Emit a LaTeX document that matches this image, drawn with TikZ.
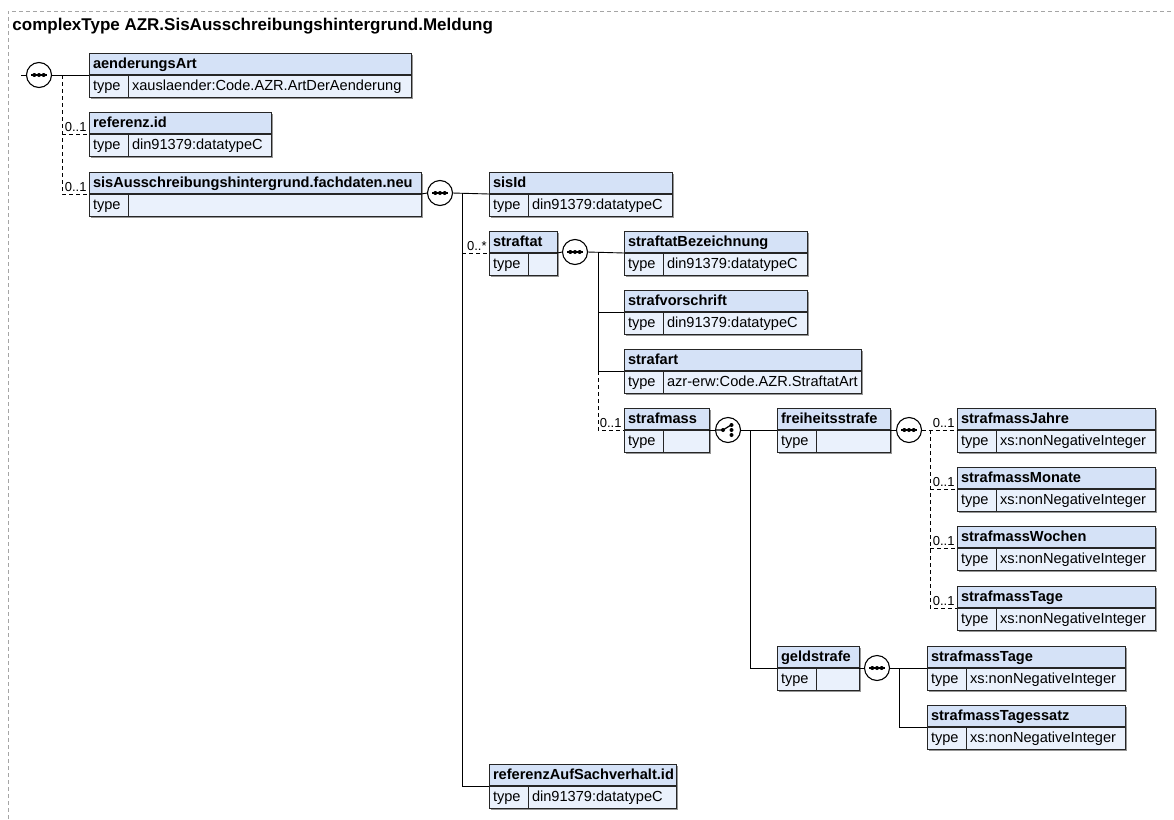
\documentclass[tikz,border=0pt]{standalone}
\usepackage{fontspec}
\setmainfont{Liberation Sans}
\usepackage{tikz}
\usetikzlibrary{shadows}

\definecolor{headblue}{RGB}{213,226,247}
\definecolor{typeblue}{RGB}{234,241,252}
\definecolor{framegray}{RGB}{165,165,165}
\definecolor{shadegray}{RGB}{150,150,150}

\newcommand{\boxfont}{\fontsize{14.6}{17}\selectfont}

\tikzset{
    boxpart/.style={draw=black!85, line width=0.9pt, anchor=north west, minimum height=22pt,
        inner xsep=4pt, inner ysep=0pt, outer sep=0pt, text height=11pt, text depth=3pt,
        general shadow={fill=shadegray, shadow xshift=2pt, shadow yshift=-2pt}},
    headbox/.style={boxpart, fill=headblue, font=\boxfont\bfseries},
    typebox/.style={boxpart, fill=typeblue, font=\boxfont},
    seqnode/.style={circle, draw=black, line width=1.1pt, fill=white, minimum size=25pt,
        inner sep=0pt, outer sep=0pt,
        path picture={
            \draw[black, line width=1.2pt] ([xshift=-8pt]path picture bounding box.center)
                -- ([xshift=8pt]path picture bounding box.center);
            \foreach \dx in {-4.7,0,4.7}
                \fill[black] ([xshift=\dx pt]path picture bounding box.center) circle (2pt);
        }},
    choicenode/.style={circle, draw=black, line width=1.1pt, fill=white, minimum size=25pt,
        inner sep=0pt, outer sep=0pt,
        path picture={
            \draw[black, line width=1.2pt] ([xshift=-13pt]path picture bounding box.center)
                -- ([xshift=-5pt]path picture bounding box.center)
                -- ([xshift=3pt,yshift=5pt]path picture bounding box.center);
            \fill[black] ([xshift=-5pt]path picture bounding box.center) circle (2pt);
            \foreach \dy in {-5,0,5}
                \fill[black] ([xshift=3.5pt,yshift=\dy pt]path picture bounding box.center) circle (2pt);
        }},
    optline/.style={dash pattern=on 4pt off 3pt},
    mult/.style={font=\fontsize{13}{15}\selectfont, inner sep=0pt, anchor=base east},
}

% element box: name, x, y, width, label, type
\newcommand{\elem}[6]{%
    \pgfmathsetmacro{\headw}{#4-8}%
    \pgfmathsetmacro{\valw}{#4-39-8}%
    \node[headbox] (#1) at (#2,#3) {\makebox[\headw pt][l]{#5}};
    \node[typebox] (#1-t) at (#1.south west) {\makebox[31pt][l]{type}};
    \node[typebox] (#1-v) at (#1-t.north east) {\makebox[\valw pt][l]{#6}};
    \draw[line width=1.6pt, black!85] (#1.south west) -- (#1.south east);
}

\begin{document}
\begin{tikzpicture}[x=1pt, y=-1pt, line width=0.9pt]
    \useasboundingbox (0,0) rectangle (1174,819);
    \draw[framegray, line width=0.8pt, dash pattern=on 4pt off 3pt] (8,819) -- (8,11) -- (1174,11);
    \node[font=\fontsize{17}{20}\selectfont\bfseries, anchor=west, inner sep=0pt] (title) at (12,26)
        {complexType AZR.SisAusschreibungshintergrund.Meldung};

    % boxes
    \elem{aenderungsArt}{89}{53}{322}{aenderungsArt}{xauslaender:Code.AZR.ArtDerAenderung}
    \elem{referenz}{89}{112}{182}{referenz.id}{din91379:datatypeC}
    \elem{sisAus}{89}{172}{332}{sisAusschreibungshintergrund.fachdaten.neu}{}
    \elem{sisId}{489}{172}{183}{sisId}{din91379:datatypeC}
    \elem{straftat}{489}{231}{68}{straftat}{}
    \elem{straftatBez}{624}{231}{183}{straftatBezeichnung}{din91379:datatypeC}
    \elem{strafvorschrift}{624}{290}{183}{strafvorschrift}{din91379:datatypeC}
    \elem{strafart}{624}{349}{237}{strafart}{azr-erw:Code.AZR.StraftatArt}
    \elem{strafmass}{624}{408}{85}{strafmass}{}
    \elem{freiheitsstrafe}{777}{408}{113}{freiheitsstrafe}{}
    \elem{jahre}{957}{408}{198}{strafmassJahre}{xs:nonNegativeInteger}
    \elem{monate}{957}{467}{198}{strafmassMonate}{xs:nonNegativeInteger}
    \elem{wochen}{957}{526}{198}{strafmassWochen}{xs:nonNegativeInteger}
    \elem{tage}{957}{586}{198}{strafmassTage}{xs:nonNegativeInteger}
    \elem{geldstrafe}{777}{646}{82}{geldstrafe}{}
    \elem{geldtage}{927}{646}{198}{strafmassTage}{xs:nonNegativeInteger}
    \elem{tagessatz}{927}{705}{198}{strafmassTagessatz}{xs:nonNegativeInteger}
    \elem{refSach}{489}{764}{187}{referenzAufSachverhalt.id}{din91379:datatypeC}

    % compositors
    \node[seqnode] (seqroot) at (39,75) {};
    \node[seqnode] (seqsis) at (440,193) {};
    \node[seqnode] (seqstraftat) at (575,252) {};
    \node[choicenode] (choicestrafmass) at (728,430) {};
    \node[seqnode] (seqfreiheit) at (909,430) {};
    \node[seqnode] (seqgeld) at (877,668) {};

    % connectors
    \coordinate (rootin) at (21,75);
    \coordinate (rootbar) at (62,75);
    \draw (rootin) -- (seqroot.west);
    \draw (seqroot.east) -- (aenderungsArt.south west);
    \draw[optline] (rootbar) |- (sisAus.south west);
    \draw[optline] (rootbar |- referenz.south west) -- (referenz.south west);

    \coordinate (sisbar) at (462,193);
    \draw (sisAus.south east) -- (seqsis.west);
    \draw (seqsis.east) -- (sisId.south west);
    \draw (sisbar) |- (refSach.south west);
    \draw[optline] (sisbar |- straftat.south west) -- (straftat.south west);

    \coordinate (straftatbar) at (598,252);
    \draw (straftat.south east) -- (seqstraftat.west);
    \draw (seqstraftat.east) -- (straftatBez.south west);
    \draw (straftatbar) |- (strafart.south west);
    \draw (straftatbar |- strafvorschrift.south west) -- (strafvorschrift.south west);
    \draw[optline] (straftatbar |- strafart.south west) |- (strafmass.south west);

    \coordinate (choicebar) at (750,430);
    \draw (strafmass.south east) -- (choicestrafmass.west);
    \draw (choicestrafmass.east) -- (freiheitsstrafe.south west);
    \draw (choicebar) |- (geldstrafe.south west);

    \coordinate (freiheitbar) at (930,430);
    \draw (freiheitsstrafe.south east) -- (seqfreiheit.west);
    \draw[optline] (seqfreiheit.east) -- (jahre.south west);
    \draw[optline] (freiheitbar) |- (tage.south west);
    \draw[optline] (freiheitbar |- monate.south west) -- (monate.south west);
    \draw[optline] (freiheitbar |- wochen.south west) -- (wochen.south west);

    \coordinate (geldbar) at (899,668);
    \draw (geldstrafe.south east) -- (seqgeld.west);
    \draw (seqgeld.east) -- (geldtage.south west);
    \draw (geldbar) |- (tagessatz.south west);

    % multiplicities
    \node[mult] (m-referenz) at ([xshift=-2pt,yshift=2.5pt]referenz.south west) {0..1};
    \node[mult] (m-sisAus) at ([xshift=-2pt,yshift=2.5pt]sisAus.south west) {0..1};
    \node[mult] (m-straftat) at ([xshift=-2pt,yshift=2.5pt]straftat.south west) {0..*};
    \node[mult] (m-strafmass) at ([xshift=-2pt,yshift=2.5pt]strafmass.south west) {0..1};
    \node[mult] (m-jahre) at ([xshift=-2pt,yshift=2.5pt]jahre.south west) {0..1};
    \node[mult] (m-monate) at ([xshift=-2pt,yshift=2.5pt]monate.south west) {0..1};
    \node[mult] (m-wochen) at ([xshift=-2pt,yshift=2.5pt]wochen.south west) {0..1};
    \node[mult] (m-tage) at ([xshift=-2pt,yshift=2.5pt]tage.south west) {0..1};
\end{tikzpicture}
\end{document}
